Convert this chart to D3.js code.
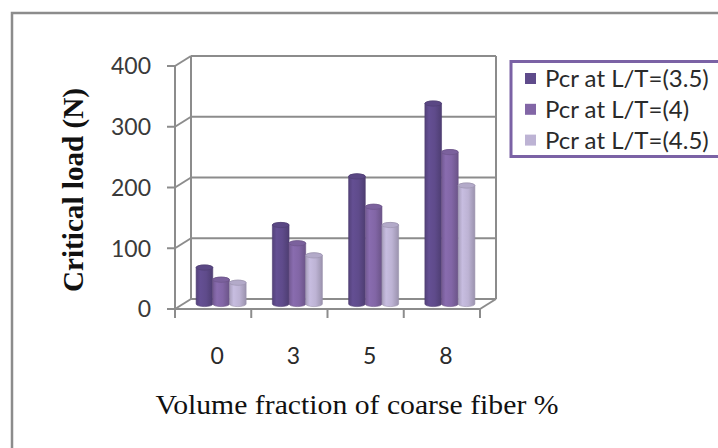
<!DOCTYPE html>
<html>
<head>
<meta charset="utf-8">
<script src="https://cdn.jsdelivr.net/npm/d3@7"></script>
<style>
  body { margin: 0; background: #fff; }
  svg { display: block; }
</style>
</head>
<body>
<svg id="chart" width="718" height="448"></svg>
<script>
// data
var categories = ['0', '3', '5', '8'];
var seriesNames = ['Pcr at L/T=(3.5)', 'Pcr at L/T=(4)', 'Pcr at L/T=(4.5)'];
var pcr35 = [60, 130, 210, 330];
var pcr4 = [40, 100, 160, 250];
var pcr45 = [35, 80, 130, 195];
var yTicks = [0, 100, 200, 300, 400];
var colors = ['#5f4b8b', '#8266a6', '#bdb3d4'];

var allSeries = [pcr35, pcr4, pcr45];

var svg = d3.select('#chart');
var grid = '#8c8c8c';

// outer frame, runs off the right and bottom edges
svg.append('rect')
  .attr('x', 12).attr('y', 13)
  .attr('width', 740).attr('height', 470)
  .attr('fill', '#fff')
  .attr('stroke', grid).attr('stroke-width', 2.5);

// 3d box: front plane and depth offset
var depth = { dx: 16, dy: -10 };
var x0 = d3.scaleBand().domain(categories).range([175, 480]);
var y = d3.scaleLinear().domain([0, 400]).range([309, 66]);
var x1 = d3.scaleBand().domain(d3.range(seriesNames.length)).range([0, 50]);

var box = svg.append('g').attr('stroke', grid).attr('stroke-width', 2).attr('fill', 'none');
var bx0 = x0.range()[0], bx1 = x0.range()[1];

// back wall gridlines + left side diagonals
yTicks.forEach(function(v) {
  box.append('line')
    .attr('x1', bx0 + depth.dx).attr('x2', bx1 + depth.dx)
    .attr('y1', y(v) + depth.dy).attr('y2', y(v) + depth.dy);
  box.append('line')
    .attr('x1', bx0).attr('x2', bx0 + depth.dx)
    .attr('y1', y(v)).attr('y2', y(v) + depth.dy);
  box.append('line')
    .attr('x1', bx0 - 8).attr('x2', bx0)
    .attr('y1', y(v)).attr('y2', y(v));
});
// back wall verticals
[bx0 + depth.dx, bx1 + depth.dx].forEach(function(xx) {
  box.append('line')
    .attr('x1', xx).attr('x2', xx)
    .attr('y1', y(400) + depth.dy).attr('y2', y(0) + depth.dy);
});
// floor front edge and right diagonal
box.append('line').attr('x1', bx0).attr('x2', bx1).attr('y1', y(0)).attr('y2', y(0));
box.append('line').attr('x1', bx1).attr('x2', bx1 + depth.dx).attr('y1', y(0)).attr('y2', y(0) + depth.dy);
// front vertical axis
box.append('line').attr('x1', bx0).attr('x2', bx0).attr('y1', y(400)).attr('y2', y(0));
// category ticks
var catEdges = categories.map(function(c) { return x0(c); }).concat([bx1]);
catEdges.forEach(function(xx) {
  box.append('line').attr('x1', xx).attr('x2', xx).attr('y1', y(0)).attr('y2', y(0) + 9);
});

// gradients for cylinders
var defs = svg.append('defs');
colors.forEach(function(c, i) {
  var base = d3.color(c);
  var g = defs.append('linearGradient').attr('id', 'cyl' + i)
    .attr('x1', 0).attr('x2', 1).attr('y1', 0).attr('y2', 0);
  g.append('stop').attr('offset', 0).attr('stop-color', base.darker(0.35));
  g.append('stop').attr('offset', 0.25).attr('stop-color', base.brighter(0.15));
  g.append('stop').attr('offset', 0.6).attr('stop-color', base);
  g.append('stop').attr('offset', 1).attr('stop-color', base.darker(0.55));
});

// bars sit at half depth
var ry = 2.6;
var bars = svg.append('g');
categories.forEach(function(cat, ci) {
  allSeries.forEach(function(vals, si) {
    var w = x1.bandwidth();
    var left = x0(cat) + (x0.bandwidth() - 50) / 2 + x1(si) + depth.dx / 2;
    var right = left + w;
    var cx = left + w / 2;
    var yb = y(0) + depth.dy / 2;
    var yt = y(vals[ci]) + depth.dy / 2;
    var rx = w / 2;
    var d = 'M' + left + ',' + yt +
      'L' + left + ',' + yb +
      'A' + rx + ',' + ry + ' 0 0 0 ' + right + ',' + yb +
      'L' + right + ',' + yt +
      'A' + rx + ',' + ry + ' 0 0 0 ' + left + ',' + yt + 'Z';
    var col = d3.color(colors[si]);
    bars.append('path')
      .attr('d', d)
      .attr('fill', 'url(#cyl' + si + ')')
      .attr('stroke', col.darker(0.6)).attr('stroke-width', 0.6);
    bars.append('ellipse')
      .attr('cx', cx).attr('cy', yt)
      .attr('rx', rx).attr('ry', ry)
      .attr('fill', col.darker(0.15))
      .attr('stroke', col.darker(0.6)).attr('stroke-width', 0.6);
  });
});

// y tick labels
svg.append('g').selectAll('text').data(yTicks).join('text')
  .attr('x', 151).attr('y', function(d) { return y(d); })
  .attr('dy', '0.36em')
  .attr('text-anchor', 'end')
  .attr('font-family', 'Lato, sans-serif').attr('font-size', 23)
  .attr('fill', '#3a3a3a')
  .text(function(d) { return d; });

// category labels
svg.append('g').selectAll('text').data(categories).join('text')
  .attr('x', function(d) { return x0(d) + x0.bandwidth() / 2 + 4; })
  .attr('y', 364)
  .attr('text-anchor', 'middle')
  .attr('font-family', 'Lato, sans-serif').attr('font-size', 23)
  .attr('fill', '#2a2a2a')
  .text(function(d) { return d; });

// axis titles
svg.append('text')
  .attr('transform', 'translate(83,190) rotate(-90)')
  .attr('text-anchor', 'middle')
  .attr('font-family', '"Liberation Serif", serif')
  .attr('font-weight', 'bold').attr('font-size', 29)
  .attr('textLength', 204).attr('lengthAdjust', 'spacingAndGlyphs')
  .attr('fill', '#111')
  .text('Critical load (N)');

svg.append('text')
  .attr('x', 357).attr('y', 414)
  .attr('text-anchor', 'middle')
  .attr('font-family', '"Liberation Serif", serif')
  .attr('font-size', 27)
  .attr('textLength', 403).attr('lengthAdjust', 'spacingAndGlyphs')
  .attr('fill', '#111')
  .text('Volume fraction of coarse fiber %');

// legend
var legend = svg.append('g');
legend.append('rect')
  .attr('x', 511).attr('y', 61.5)
  .attr('width', 220).attr('height', 95)
  .attr('fill', '#fff')
  .attr('stroke', '#7b62a5').attr('stroke-width', 3);
var rows = legend.selectAll('g.row').data(seriesNames).join('g')
  .attr('class', 'row')
  .attr('transform', function(d, i) { return 'translate(525,' + (78.5 + i * 30.8) + ')'; });
rows.append('rect')
  .attr('x', 0).attr('y', -5.5)
  .attr('width', 11).attr('height', 11)
  .attr('fill', function(d, i) { return colors[i]; });
rows.append('text')
  .attr('x', 20).attr('dy', '0.36em')
  .attr('font-family', 'Lato, sans-serif').attr('font-size', 24)
  .attr('fill', '#2a2a2a')
  .text(function(d) { return d; });
</script>
</body>
</html>
